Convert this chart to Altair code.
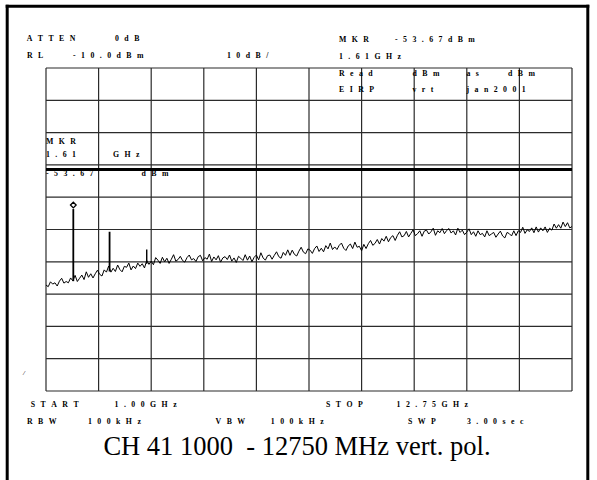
import altair as alt
import pandas as pd

# ---------------- data ----------------
START_GHZ = 1.00
STOP_GHZ = 12.75
SWEEP_STEP_GHZ = 0.05
REF_LEVEL_DBM = -10.0
BOTTOM_DBM = -110.0

x_grid_ghz = [1.0, 2.175, 3.35, 4.525, 5.7, 6.875, 8.05, 9.225, 10.4, 11.575, 12.75]
y_grid_dbm = [-110, -100, -90, -80, -70, -60, -50, -40, -30, -20, -10]

limit_dbm = [-41.4]

trace_dbm = [
    -77.2, -77.7, -76.2, -76.9, -76.5, -77.5, -76.0, -75.1, -76.6, -76.1,
    -76.5, -75.0, -75.9, -74.2, -76.1, -75.1, -74.1, -75.5, -73.1, -74.8,
    -73.7, -75.0, -73.7, -72.6, -73.9, -74.4, -72.5, -73.2, -71.3, -73.2,
    -72.0, -73.0, -71.0, -72.4, -73.1, -71.4, -71.7, -70.4, -72.5, -71.3,
    -72.1, -70.4, -71.4, -70.6, -71.9, -69.6, -70.8, -69.8, -70.9, -68.7,
    -69.5, -70.5, -68.6, -70.0, -68.9, -70.5, -69.2, -67.8, -69.8, -69.3,
    -68.3, -69.6, -70.1, -68.7, -67.9, -69.4, -69.0, -69.9, -68.4, -68.0,
    -69.7, -68.7, -69.2, -67.6, -69.9, -68.5, -69.4, -68.1, -70.1, -68.8,
    -68.4, -69.3, -67.9, -69.8, -68.8, -70.2, -68.3, -68.9, -69.6, -67.8,
    -69.5, -68.2, -70.0, -68.6, -67.9, -69.4, -67.2, -68.8, -69.5, -68.1,
    -67.9, -69.2, -68.0, -66.9, -68.4, -68.9, -67.1, -68.0, -66.3, -68.0,
    -66.4, -67.7, -68.2, -66.7, -65.5, -67.0, -67.5, -66.0, -66.4, -67.4,
    -65.9, -65.1, -66.8, -65.8, -66.9, -65.0, -66.0, -64.2, -66.2, -65.4,
    -66.2, -64.9, -64.2, -65.8, -66.5, -65.1, -64.5, -65.9, -63.9, -65.5,
    -65.2, -66.6, -64.6, -65.9, -64.4, -63.4, -64.9, -64.3, -63.1, -64.5,
    -62.8, -63.6, -62.1, -63.8, -62.5, -61.9, -63.4, -61.8, -60.7, -62.3,
    -61.9, -60.6, -62.3, -61.2, -60.1, -61.9, -61.3, -60.4, -62.1, -60.5,
    -60.2, -61.4, -60.7, -59.6, -61.8, -60.4, -61.0, -59.7, -61.3, -60.3,
    -59.7, -61.1, -60.4, -61.7, -59.6, -60.9, -60.2, -61.6, -60.8, -59.8,
    -61.6, -60.7, -62.1, -60.4, -61.6, -61.2, -62.3, -60.4, -61.9, -61.4,
    -60.9, -62.4, -61.4, -60.5, -62.0, -62.6, -60.9, -61.3, -62.0, -60.4,
    -61.9, -60.4, -60.9, -59.3, -61.2, -60.1, -60.6, -59.5, -61.0, -59.2,
    -60.8, -59.5, -60.4, -59.2, -60.9, -59.6, -60.2, -58.3, -59.6, -58.5,
    -59.6, -57.7, -59.1, -57.9, -59.5, -59.1,
]

peak_ghz = [1.61, 2.42, 3.25]
peak_top_dbm = [-53.67, -60.7, -66.2]
peak_base_dbm = [-76.0, -73.0, -70.6]
peak_width = [1.8, 1.8, 1.4]

marker_ghz = [1.61]
marker_dbm = [-53.67]

label_texts = [
    "ATTEN", "0dB", "RL", "-10.0dBm", "10dB/",
    "MKR", "-53.67dBm", "1.61GHz",
    "Read", "dBm", "as", "dBm",
    "EIRP", "vrt", "jan2001",
    "MKR", "1.61", "GHz", "-53.67", "dBm",
    "START", "1.00GHz", "STOP", "12.75GHz",
    "RBW", "100kHz", "VBW", "100kHz", "SWP", "3.00sec",
]
title_text = "CH 41 1000\u00a0 - 12750 MHz vert. pol."
corner_mark = "/"

# ---------------- layout ----------------
W, H = 597, 480
PLOT_L, PLOT_T, PLOT_R, PLOT_B = 46, 68, 572, 391
label_x = [26.7, 115, 27, 73, 227,
           339, 395, 339,
           339, 412.5, 466.5, 508,
           339, 412.5, 466.5,
           46, 46, 113, 46, 141.5,
           30.8, 114.6, 326, 396.6,
           27, 88, 215.6, 270.8, 408, 467]
label_y = [39.3, 39.3, 55.7, 55.7, 55.7,
           39.6, 39.6, 56.6,
           74.2, 74.2, 74.2, 74.2,
           89.7, 89.7, 89.7,
           141.7, 155.3, 155.3, 173.7, 173.7,
           404.7, 404.7, 404.7, 404.7,
           421.8, 421.8, 421.8, 421.8, 421.8, 421.8]
SEP = "\u2002\u2009"


def spaced(s):
    return SEP.join(list(s))


trace_df = pd.DataFrame({
    "freq": [round(START_GHZ + i * SWEEP_STEP_GHZ, 3) for i in range(len(trace_dbm))],
    "level": trace_dbm,
})
peaks_df = pd.DataFrame({"freq": peak_ghz, "top": peak_top_dbm,
                         "base": peak_base_dbm, "w": peak_width})
marker_df = pd.DataFrame({"freq": marker_ghz, "level": marker_dbm})
limit_df = pd.DataFrame({"level": limit_dbm})
xgrid_df = pd.DataFrame({"freq": x_grid_ghz})
ygrid_df = pd.DataFrame({"level": y_grid_dbm})
labels_df = pd.DataFrame({
    "t": [spaced(s) for s in label_texts],
    "px": [v - PLOT_L for v in label_x],
    "py": [v - PLOT_T for v in label_y],
})

x_scale = alt.Scale(domain=[START_GHZ, STOP_GHZ], nice=False, zero=False)
y_scale = alt.Scale(domain=[BOTTOM_DBM, REF_LEVEL_DBM], nice=False, zero=False)
GRID_COLOR = "#2b2b2b"

vgrid = alt.Chart(xgrid_df).mark_rule(color=GRID_COLOR, strokeWidth=1.2).encode(
    x=alt.X("freq:Q", scale=x_scale, axis=None)
)
hgrid = alt.Chart(ygrid_df).mark_rule(color=GRID_COLOR, strokeWidth=1.2).encode(
    y=alt.Y("level:Q", scale=y_scale, axis=None)
)

trace = alt.Chart(trace_df).mark_line(color="black", strokeWidth=1).encode(
    x=alt.X("freq:Q", scale=x_scale, axis=None),
    y=alt.Y("level:Q", scale=y_scale, axis=None),
)

limit = alt.Chart(limit_df).mark_rule(color="black", strokeWidth=3).encode(
    y=alt.Y("level:Q", scale=y_scale)
)

peaks = alt.Chart(peaks_df).mark_rule(color="black").encode(
    x=alt.X("freq:Q", scale=x_scale),
    y=alt.Y("base:Q", scale=y_scale),
    y2="top:Q",
    strokeWidth=alt.StrokeWidth("w:Q", scale=None, legend=None),
)

marker = alt.Chart(marker_df).mark_point(
    shape="diamond", filled=True, fill="white", stroke="black",
    strokeWidth=1.3, size=32, yOffset=-4, opacity=1
).encode(
    x=alt.X("freq:Q", scale=x_scale),
    y=alt.Y("level:Q", scale=y_scale),
)

labels = alt.Chart(labels_df).mark_text(
    align="left", baseline="middle", font="Liberation Serif",
    fontWeight="bold", fontSize=7.8, color="black"
).encode(
    x=alt.X("px:Q", scale=None, axis=None),
    y=alt.Y("py:Q", scale=None, axis=None),
    text="t:N",
)

title = alt.Chart(pd.DataFrame({"t": [title_text]})).mark_text(
    align="center", baseline="alphabetic", font="Liberation Serif",
    fontSize=26.5, color="black"
).encode(
    x=alt.value(297 - PLOT_L), y=alt.value(455 - PLOT_T), text="t:N"
)

corner = alt.Chart(pd.DataFrame({"t": [corner_mark]})).mark_text(
    align="center", baseline="middle", font="Liberation Serif",
    fontStyle="italic", fontSize=7, color="black"
).encode(
    x=alt.value(24 - PLOT_L), y=alt.value(373 - PLOT_T), text="t:N"
)

frame_left = alt.Chart(pd.DataFrame({"a": [0]})).mark_rule(
    color="black", strokeWidth=3).encode(
    x=alt.value(7.2 - PLOT_L), y=alt.value(4.7 - PLOT_T), y2=alt.value(H + 2 - PLOT_T))
frame_right = alt.Chart(pd.DataFrame({"a": [0]})).mark_rule(
    color="black", strokeWidth=3).encode(
    x=alt.value(587.8 - PLOT_L), y=alt.value(4.7 - PLOT_T), y2=alt.value(H + 2 - PLOT_T))
frame_top = alt.Chart(pd.DataFrame({"a": [0]})).mark_rule(
    color="black", strokeWidth=3).encode(
    x=alt.value(5.7 - PLOT_L), x2=alt.value(589.3 - PLOT_L), y=alt.value(6.2 - PLOT_T))

chart = alt.layer(
    vgrid, hgrid, trace, limit, peaks, marker, labels, title, corner,
    frame_left, frame_right, frame_top
).properties(
    width=PLOT_R - PLOT_L,
    height=PLOT_B - PLOT_T,
    padding={"left": PLOT_L, "top": PLOT_T, "right": W - PLOT_R, "bottom": H - PLOT_B},
    autosize=alt.AutoSizeParams(type="none"),
    background="white",
).configure_view(stroke=None)

chart.save("out.html", embed_options={"renderer": "svg", "actions": False})
